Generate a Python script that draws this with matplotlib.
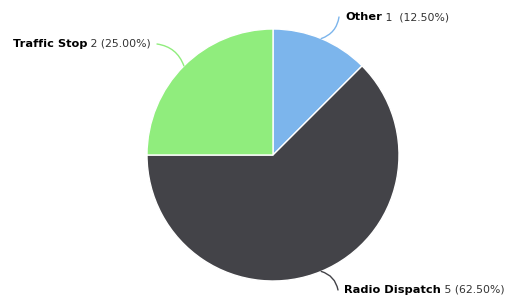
import matplotlib
matplotlib.use("Agg")
import matplotlib.pyplot as plt
import numpy as np

labels = ["Other", "Radio Dispatch", "Traffic Stop"]
counts = [1, 5, 2]
colors = ["#7cb5ec", "#434348", "#90ed7d"]

W, H = 508, 302
fig = plt.figure(figsize=(W / 100, H / 100), dpi=100)
ax = fig.add_axes([0, 0, 1, 1])

cx, cy, r = 273, H - 155, 126
wedges, _ = ax.pie(counts, colors=colors, startangle=90, counterclock=False,
                   center=(cx, cy), radius=r, frame=True,
                   wedgeprops=dict(edgecolor="white", linewidth=1))
ax.set_xlim(0, W); ax.set_ylim(0, H)
ax.axis("off")

total = sum(counts)
# label anchor (pixel coords from top), side, connector curvature
places = {
    "Other": ((339, 17), "left", -0.3),
    "Radio Dispatch": ((338, 290), "left", 0.3),
    "Traffic Stop": ((157, 44), "right", -0.3),
}

fig.canvas.draw()
rend = fig.canvas.get_renderer()
inv = ax.transData.inverted()

for w, lab, n in zip(wedges, labels, counts):
    ang = np.deg2rad((w.theta1 + w.theta2) / 2)
    ex, ey = cx + r * np.cos(ang), cy + r * np.sin(ang)
    (lx, ly), side, rad = places[lab]
    ly = H - ly
    ax.annotate("", xy=(ex, ey), xytext=(lx, ly),
                arrowprops=dict(arrowstyle="-", color=w.get_facecolor(), lw=1,
                                connectionstyle=f"arc3,rad={rad}", shrinkA=0, shrinkB=0))
    val = f" {n}  ({n / total * 100:.2f}%)" if lab == "Other" else f" {n} ({n / total * 100:.2f}%)"
    if side == "left":
        t1 = ax.text(lx + 6, ly, lab, ha="left", va="center", fontsize=8.2, fontweight="bold", color="black")
        bb = t1.get_window_extent(rend)
        x1 = inv.transform((bb.x1, bb.y0))[0]
        ax.text(x1, ly, val, ha="left", va="center", fontsize=7.8, color="#333333")
    else:
        t2 = ax.text(lx - 6, ly, val, ha="right", va="center", fontsize=7.8, color="#333333")
        bb = t2.get_window_extent(rend)
        x0 = inv.transform((bb.x0, bb.y0))[0]
        ax.text(x0, ly, lab, ha="right", va="center", fontsize=8.2, fontweight="bold", color="black")

fig.savefig("out.png", dpi=100)
